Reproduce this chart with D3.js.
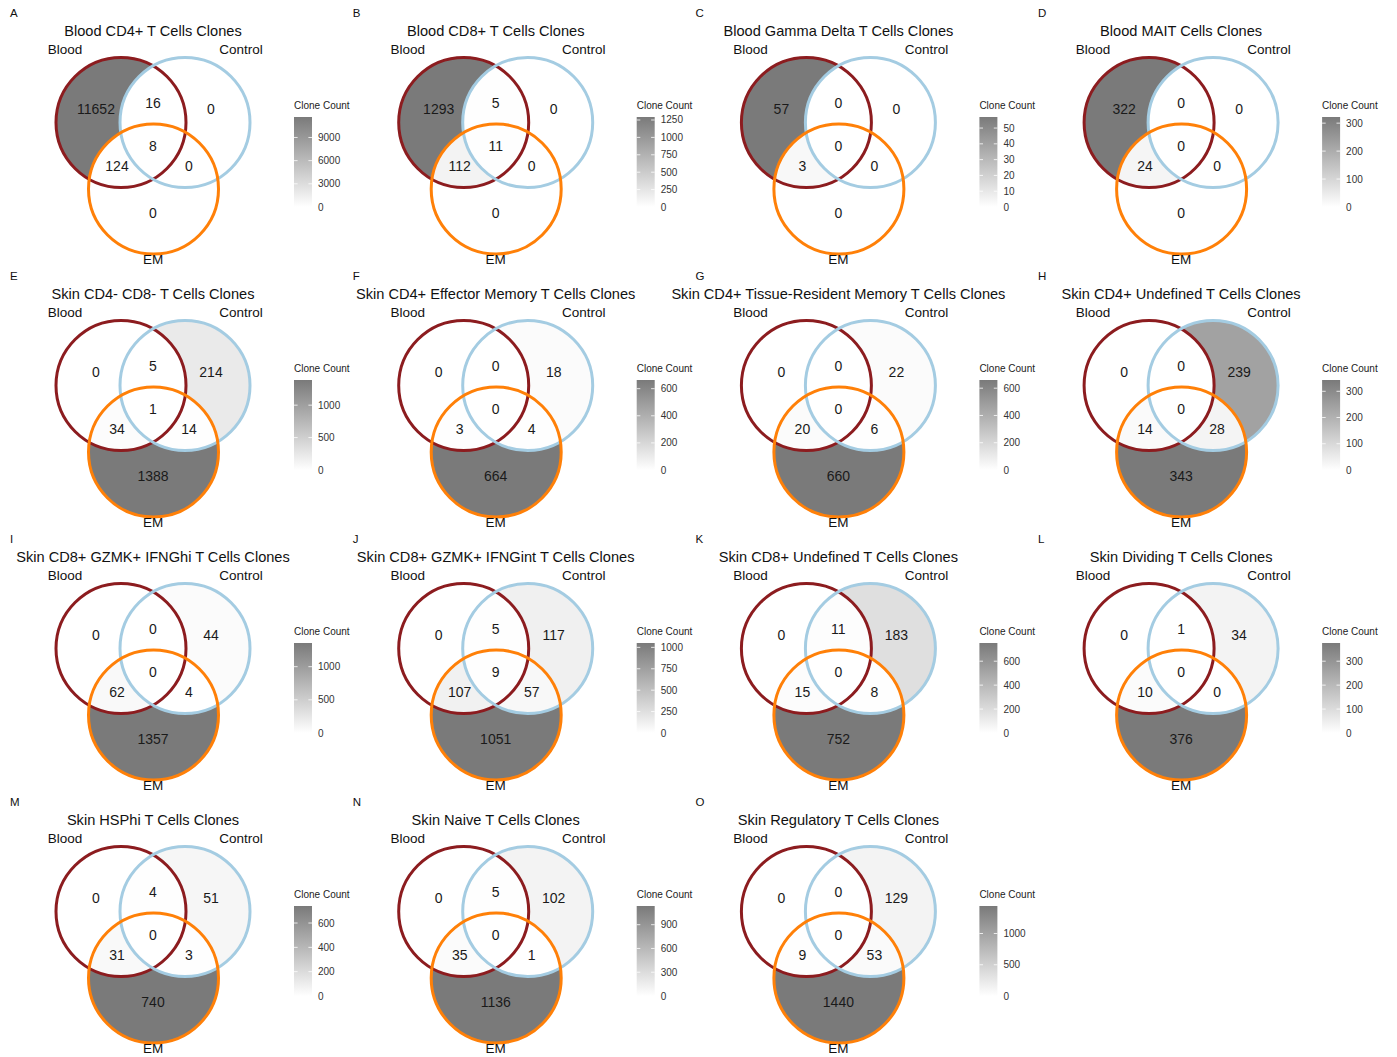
<!DOCTYPE html>
<html>
<head>
<meta charset="utf-8">
<script src="https://cdn.jsdelivr.net/npm/d3@7"></script>
<style>
  html, body { margin: 0; padding: 0; background: #ffffff; }
  svg { display: block; font-family: "Liberation Sans", Arial, Helvetica, sans-serif; }
</style>
</head>
<body>
<svg id="chart" width="1397" height="1057"></svg>
<script>
// ---- data -------------------------------------------------------------
const panelLetters = ["A","B","C","D","E","F","G","H","I","J","K","L","M","N","O"];
const titles = [
  "Blood CD4+ T Cells Clones",
  "Blood CD8+ T Cells Clones",
  "Blood Gamma Delta T Cells Clones",
  "Blood MAIT Cells Clones",
  "Skin CD4- CD8- T Cells Clones",
  "Skin CD4+ Effector Memory T Cells Clones",
  "Skin CD4+ Tissue-Resident Memory T Cells Clones",
  "Skin CD4+ Undefined T Cells Clones",
  "Skin CD8+ GZMK+ IFNGhi T Cells Clones",
  "Skin CD8+ GZMK+ IFNGint T Cells Clones",
  "Skin CD8+ Undefined T Cells Clones",
  "Skin Dividing T Cells Clones",
  "Skin HSPhi T Cells Clones",
  "Skin Naive T Cells Clones",
  "Skin Regulatory T Cells Clones"
];
const setNames = ["Blood", "Control", "EM"];

// clone counts per Venn region, one entry per panel (A..O)
const bloodOnly      = [11652, 1293, 57, 322, 0, 0, 0, 0, 0, 0, 0, 0, 0, 0, 0];
const bloodControl   = [16, 5, 0, 0, 5, 0, 0, 0, 0, 5, 11, 1, 4, 5, 0];
const controlOnly    = [0, 0, 0, 0, 214, 18, 22, 239, 44, 117, 183, 34, 51, 102, 129];
const allThree       = [8, 11, 0, 0, 1, 0, 0, 0, 0, 9, 0, 0, 0, 0, 0];
const bloodEM        = [124, 112, 3, 24, 34, 3, 20, 14, 62, 107, 15, 10, 31, 35, 9];
const controlEM      = [0, 0, 0, 0, 14, 4, 6, 28, 4, 57, 8, 0, 3, 1, 53];
const emOnly         = [0, 0, 0, 0, 1388, 664, 660, 343, 1357, 1051, 752, 376, 740, 1136, 1440];

// colour bar tick labels per panel
const legendTicks = [
  [0, 3000, 6000, 9000],
  [0, 250, 500, 750, 1000, 1250],
  [0, 10, 20, 30, 40, 50],
  [0, 100, 200, 300],
  [0, 500, 1000],
  [0, 200, 400, 600],
  [0, 200, 400, 600],
  [0, 100, 200, 300],
  [0, 500, 1000],
  [0, 250, 500, 750, 1000],
  [0, 200, 400, 600],
  [0, 100, 200, 300],
  [0, 200, 400, 600],
  [0, 300, 600, 900],
  [0, 500, 1000]
];

// ---- layout ------------------------------------------------------------
const colStep = 342.7, rowStep = 263, nCols = 4;
const circles = [
  { cx: 121, cy: 122.5, r: 65, stroke: "#8c1c1f" },  // Blood
  { cx: 185, cy: 122.5, r: 65, stroke: "#a4cce2" },  // Control
  { cx: 153.5, cy: 189, r: 65, stroke: "#ff8008" }   // EM
];
// regions: membership in [Blood, Control, EM] and label anchor
const regions = [
  { key: "bloodOnly",    inSets: [1,0,0], lx: 96,  ly: 109, values: bloodOnly },
  { key: "bloodControl", inSets: [1,1,0], lx: 153, ly: 103, values: bloodControl },
  { key: "controlOnly",  inSets: [0,1,0], lx: 211, ly: 109, values: controlOnly },
  { key: "allThree",     inSets: [1,1,1], lx: 153, ly: 146, values: allThree },
  { key: "bloodEM",      inSets: [1,0,1], lx: 117, ly: 166, values: bloodEM },
  { key: "controlEM",    inSets: [0,1,1], lx: 189, ly: 166, values: controlEM },
  { key: "emOnly",       inSets: [0,0,1], lx: 153, ly: 213, values: emOnly }
];
const lowColor = "#ffffff", highColor = "#7a7a7a";
const legend = { x: 294, y0: 117, y1: 207, w: 18 };

const svg = d3.select("#chart");
const defs = svg.append("defs");

titles.forEach((title, p) => {
  const col = p % nCols, row = Math.floor(p / nCols);
  const g = svg.append("g").attr("transform", `translate(${col * colStep},${row * rowStep})`);
  const vals = regions.map(r => r.values[p]);
  const vmax = d3.max(vals);
  const color = d3.scaleLinear().domain([0, vmax]).range([lowColor, highColor]);

  // clip paths for each set circle
  circles.forEach((c, k) => {
    defs.append("clipPath").attr("id", `p${p}-clip-${k}`)
      .attr("clipPathUnits", "userSpaceOnUse")
      .append("circle").attr("cx", c.cx).attr("cy", c.cy).attr("r", c.r);
  });

  // filled regions
  const fills = g.append("g");
  regions.forEach((reg, ri) => {
    const excluded = reg.inSets.map((v, k) => v ? null : k).filter(k => k !== null);
    let node = fills;
    reg.inSets.forEach((v, k) => {
      if (v) node = node.append("g").attr("clip-path", `url(#p${p}-clip-${k})`);
    });
    const rect = node.append("rect")
      .attr("x", 40).attr("y", 40).attr("width", 230).attr("height", 230)
      .attr("fill", color(reg.values[p]));
    if (excluded.length) {
      const m = defs.append("mask").attr("id", `p${p}-mask-${ri}`)
        .attr("maskUnits", "userSpaceOnUse")
        .attr("x", 0).attr("y", 0).attr("width", 340).attr("height", 270);
      m.append("rect").attr("x", 0).attr("y", 0).attr("width", 340).attr("height", 270).attr("fill", "#fff");
      excluded.forEach(k => {
        const c = circles[k];
        m.append("circle").attr("cx", c.cx).attr("cy", c.cy).attr("r", c.r).attr("fill", "#000");
      });
      rect.attr("mask", `url(#p${p}-mask-${ri})`);
    }
  });

  // set outlines
  g.append("g").selectAll("circle").data(circles).join("circle")
    .attr("cx", d => d.cx).attr("cy", d => d.cy).attr("r", d => d.r)
    .attr("fill", "none").attr("stroke", d => d.stroke).attr("stroke-width", 3);

  // region counts
  g.append("g").selectAll("text").data(regions).join("text")
    .attr("x", d => d.lx).attr("y", d => d.ly + 5)
    .attr("text-anchor", "middle").attr("font-size", 14).attr("fill", "#1a1a1a")
    .text(d => d.values[p]);

  // panel tag, title, set names
  g.append("text").attr("x", 10).attr("y", 17).attr("font-size", 11.5).attr("fill", "#111").text(panelLetters[p]);
  g.append("text").attr("x", 153).attr("y", 35.5).attr("text-anchor", "middle")
    .attr("font-size", 14.6).attr("fill", "#111").text(title);
  g.append("text").attr("x", 65).attr("y", 54).attr("text-anchor", "middle")
    .attr("font-size", 13.5).attr("fill", "#111").text(setNames[0]);
  g.append("text").attr("x", 241).attr("y", 54).attr("text-anchor", "middle")
    .attr("font-size", 13.5).attr("fill", "#111").text(setNames[1]);
  g.append("text").attr("x", 153).attr("y", 264).attr("text-anchor", "middle")
    .attr("font-size", 13.5).attr("fill", "#111").text(setNames[2]);

  // colour bar legend
  const gradId = `p${p}-grad`;
  const grad = defs.append("linearGradient").attr("id", gradId)
    .attr("x1", 0).attr("y1", 1).attr("x2", 0).attr("y2", 0);
  grad.append("stop").attr("offset", "0%").attr("stop-color", color(0));
  grad.append("stop").attr("offset", "100%").attr("stop-color", color(vmax));

  const ly = d3.scaleLinear().domain([0, vmax]).range([legend.y1, legend.y0]);
  const lg = g.append("g");
  lg.append("text").attr("x", legend.x).attr("y", 109)
    .attr("font-size", 10).attr("fill", "#222").text("Clone Count");
  lg.append("rect").attr("x", legend.x).attr("y", legend.y0)
    .attr("width", legend.w).attr("height", legend.y1 - legend.y0)
    .attr("fill", `url(#${gradId})`);
  const ticks = legendTicks[p];
  lg.append("g").selectAll("line.l").data(ticks).join("line")
    .attr("x1", legend.x).attr("x2", legend.x + 3.6)
    .attr("y1", d => ly(d)).attr("y2", d => ly(d))
    .attr("stroke", "#fff").attr("stroke-width", 0.8);
  lg.append("g").selectAll("line.r").data(ticks).join("line")
    .attr("x1", legend.x + legend.w - 3.6).attr("x2", legend.x + legend.w)
    .attr("y1", d => ly(d)).attr("y2", d => ly(d))
    .attr("stroke", "#fff").attr("stroke-width", 0.8);
  lg.append("g").selectAll("text").data(ticks).join("text")
    .attr("x", legend.x + legend.w + 6).attr("y", d => ly(d) + 3.5)
    .attr("font-size", 10).attr("fill", "#333").text(d => d);
});
</script>
</body>
</html>
